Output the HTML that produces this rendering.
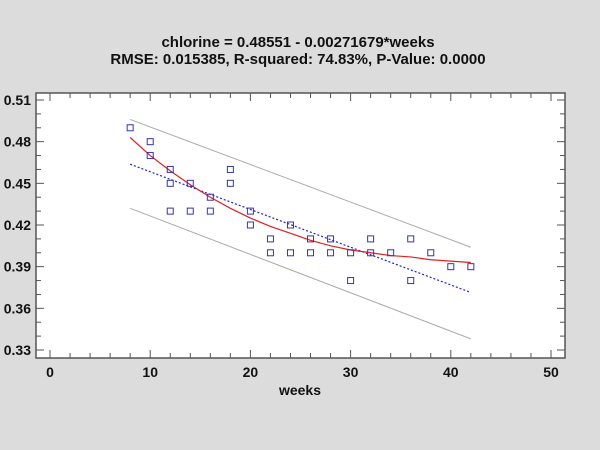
<!DOCTYPE html>
<html><head><meta charset="utf-8"><style>
html,body{margin:0;padding:0;background:#dcdcdc;}
svg{display:block;font-family:"Liberation Sans",Arial,sans-serif;}
</style></head><body>
<svg id="chart" width="600" height="450" viewBox="0 0 600 450">
<rect x="0" y="0" width="600" height="450" fill="#dcdcdc"/>
<text x="298" y="47" text-anchor="middle" font-size="15" font-weight="bold" fill="#111">chlorine = 0.48551 - 0.00271679*weeks</text>
<text x="298" y="64" text-anchor="middle" font-size="15" font-weight="bold" fill="#111">RMSE: 0.015385, R-squared: 74.83%, P-Value: 0.0000</text>
<rect x="36" y="93" width="529" height="265" fill="#fff" stroke="#555" stroke-width="1.5"/>
<g id="ticks"></g>
<g id="marks"></g>
<text x="300" y="395" text-anchor="middle" font-size="14" font-weight="bold" fill="#111">weeks</text>
</svg>
<script>
const weeks=[8,10,10,12,12,12,14,14,16,16,18,18,20,20,22,22,24,24,26,26,28,28,30,30,32,32,34,36,36,38,40,42];
const chlorine=[0.49,0.48,0.47,0.46,0.45,0.43,0.45,0.43,0.44,0.43,0.46,0.45,0.43,0.42,0.41,0.40,0.42,0.40,0.41,0.40,0.41,0.40,0.40,0.38,0.41,0.40,0.40,0.41,0.38,0.40,0.39,0.39];
const intercept=0.48551, slope=-0.00271679;
const limitX=[8,42];
const upperLimit=[0.496,0.404];
const lowerLimit=[0.432,0.338];
const smoothX=[8,10,12,14,16,18,20,22,24,26,28,30,32,34,36,38,40,42];
const smoothY=[0.483,0.470,0.459,0.449,0.440,0.432,0.425,0.419,0.414,0.409,0.405,0.402,0.400,0.398,0.397,0.395,0.394,0.393];
const xTicks=[0,10,20,30,40,50];
const yTicks=[0.33,0.36,0.39,0.42,0.45,0.48,0.51];
const NS='http://www.w3.org/2000/svg';
const X=v=>50+(v-0)*(501/50);
const Y=v=>100+(0.51-v)*(250/0.18);
const L=36,R=565,T=93,B=358;
const tk=document.getElementById('ticks'), mk=document.getElementById('marks');
function mkEl(tag,attrs,parent){const e=document.createElementNS(NS,tag);for(const k in attrs)e.setAttribute(k,attrs[k]);parent.appendChild(e);return e;}
for(let v=0;v<=50;v+=2){const x=X(v);const len=(v%10===0)?8:5;
 const a=mkEl('line',{x1:x,x2:x,y1:B,y2:B-len,stroke:'#555','stroke-width':1},tk);
 
 const b=mkEl('line',{x1:x,x2:x,y1:T,y2:T+len,stroke:'#555','stroke-width':1},tk);
 }
for(let i=0;i<=19;i++){const v=0.32+i*0.01;const y=Y(v);if(y<T||y>B)continue;const len=(Math.round(v*100)%3===0)?8:5;
 const a=mkEl('line',{x1:L,x2:L+len,y1:y,y2:y,stroke:'#555','stroke-width':1},tk);
 
 const b=mkEl('line',{x1:R,x2:R-len,y1:y,y2:y,stroke:'#555','stroke-width':1},tk);
 }
xTicks.forEach(v=>{const t=mkEl('text',{x:X(v),y:377,'text-anchor':'middle','font-size':14,'font-weight':'bold',fill:'#111'},tk);t.textContent=v;
 });
yTicks.forEach(v=>{const t=mkEl('text',{x:31,y:Y(v)+5,'text-anchor':'end','font-size':14,'font-weight':'bold',fill:'#111'},tk);t.textContent=v.toFixed(2);
 });
const up=mkEl('line',{x1:X(limitX[0]),y1:Y(upperLimit[0]),x2:X(limitX[1]),y2:Y(upperLimit[1]),stroke:'#aaa','stroke-width':1},mk);

const lo=mkEl('line',{x1:X(limitX[0]),y1:Y(lowerLimit[0]),x2:X(limitX[1]),y2:Y(lowerLimit[1]),stroke:'#aaa','stroke-width':1},mk);

const rl=mkEl('line',{x1:X(limitX[0]),y1:Y(intercept+slope*limitX[0]),x2:X(limitX[1]),y2:Y(intercept+slope*limitX[1]),stroke:'#2222cc','stroke-width':1.2,'stroke-dasharray':'2,2'},mk);

const sm=mkEl('polyline',{points:smoothX.map((x,i)=>X(x)+','+Y(smoothY[i])).join(' '),fill:'none',stroke:'#dd2222','stroke-width':1.2},mk);

weeks.forEach((w,i)=>{const p=mkEl('rect',{x:X(w)-3,y:Y(chlorine[i])-3,width:6,height:6,fill:'none',stroke:'#3333bb','stroke-width':1},mk);
 });
</script>
</body></html>
